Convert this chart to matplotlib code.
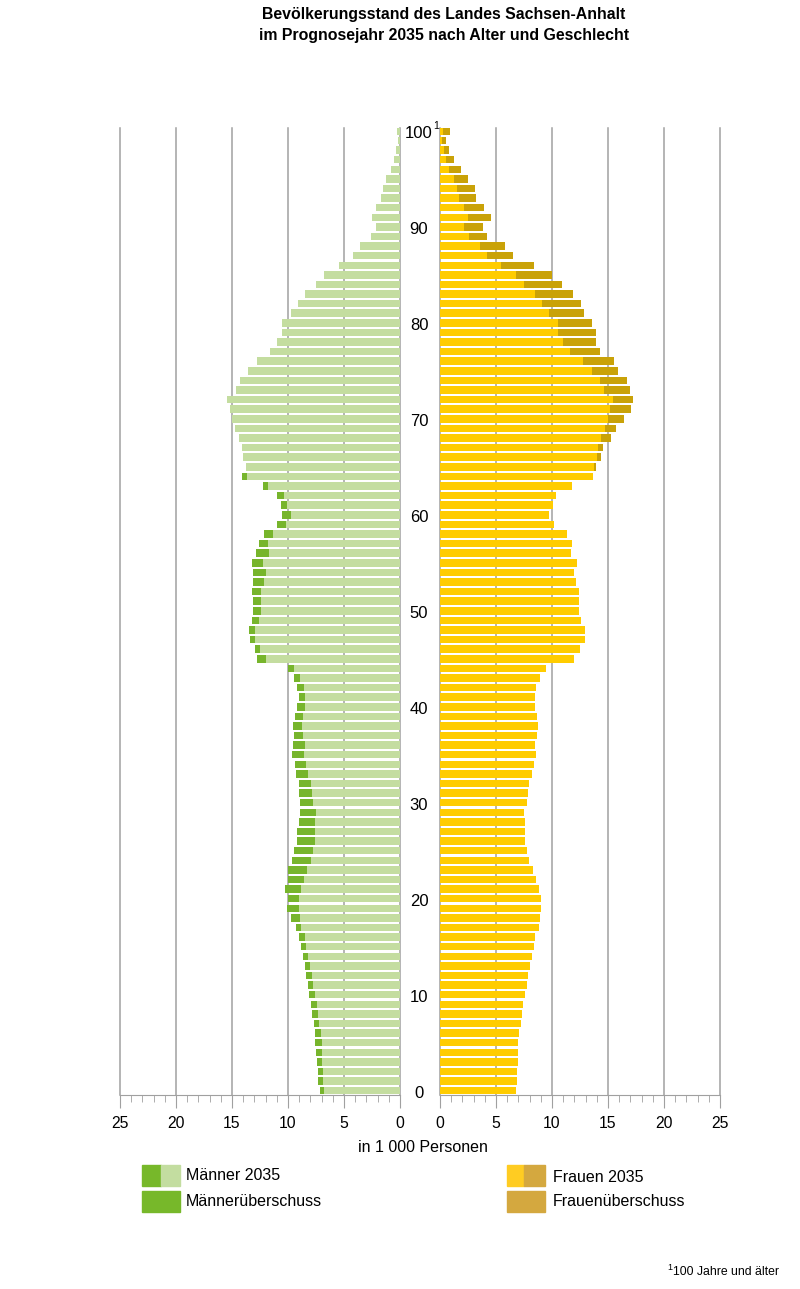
import numpy as np
import matplotlib.pyplot as plt
from matplotlib.patches import Rectangle
from matplotlib.transforms import blended_transform_factory

plt.rcParams["font.family"] = ["Liberation Sans", "DejaVu Sans"]

# Alter 0 bis 100 (100 = 100 Jahre und älter)
ages = np.arange(0, 101)

# Bevölkerung 2035 in 1 000 Personen, Alter 0 ... 100
maenner = [
    7.17, 7.29, 7.35, 7.44, 7.50, 7.56, 7.62, 7.71, 7.86, 7.95,
    8.13, 8.21, 8.36, 8.48, 8.63, 8.81, 9.02, 9.29, 9.76, 10.12,
    10.03, 10.24, 10.03, 9.97, 9.61, 9.43, 9.20, 9.17, 8.99, 8.96,
    8.93, 9.05, 9.05, 9.29, 9.38, 9.61, 9.55, 9.43, 9.52, 9.38,
    9.17, 9.02, 9.17, 9.43, 10.00, 12.74, 12.98, 13.42, 13.48, 13.18,
    13.15, 13.12, 13.24, 13.15, 13.10, 13.18, 12.83, 12.60, 12.17, 11.00,
    10.57, 10.65, 11.00, 12.23, 14.14, 13.78, 14.00, 14.10, 14.37, 14.73,
    15.03, 15.15, 15.42, 14.64, 14.30, 13.54, 12.74, 11.64, 10.98, 10.50,
    10.50, 9.73, 9.10, 8.48, 7.53, 6.82, 5.42, 4.17, 3.57, 2.56,
    2.17, 2.53, 2.14, 1.70, 1.55, 1.22, 0.83, 0.54, 0.33, 0.22, 0.27,
]
frauen = [
    6.82, 6.88, 6.90, 6.96, 6.99, 6.99, 7.08, 7.23, 7.32, 7.44,
    7.62, 7.77, 7.89, 8.07, 8.18, 8.36, 8.48, 8.87, 8.96, 9.05,
    9.02, 8.81, 8.57, 8.33, 7.92, 7.80, 7.59, 7.62, 7.56, 7.47,
    7.80, 7.89, 7.95, 8.21, 8.36, 8.54, 8.51, 8.66, 8.72, 8.66,
    8.45, 8.45, 8.54, 8.93, 9.49, 11.99, 12.53, 12.95, 12.92, 12.56,
    12.38, 12.41, 12.38, 12.10, 12.00, 12.26, 11.67, 11.79, 11.30, 10.20,
    9.70, 10.09, 10.33, 11.79, 13.69, 13.93, 14.35, 14.52, 15.27, 15.71,
    16.43, 17.02, 17.23, 17.00, 16.73, 15.90, 15.57, 14.30, 13.93, 13.96,
    13.60, 12.86, 12.60, 11.90, 10.90, 9.97, 8.42, 6.55, 5.80, 4.23,
    3.81, 4.52, 3.93, 3.20, 3.10, 2.50, 1.85, 1.22, 0.83, 0.57, 0.92,
]

x_ticks = [0, 5, 10, 15, 20, 25]
age_labels = [0, 10, 20, 30, 40, 50, 60, 70, 80, 90, 100]

m = np.array(maenner)
f = np.array(frauen)
common = np.minimum(m, f)
m_surplus = np.clip(m - f, 0, None)
f_surplus = np.clip(f - m, 0, None)

W, H = 800, 1289


def px(x, y):
    """Pixel position (from top left) -> figure fraction."""
    return x / W, 1 - y / H


fig = plt.figure(figsize=(W / 100, H / 100), dpi=100)
axL = fig.add_axes([120 / W, 194 / H, 280 / W, 967 / H])
axR = fig.add_axes([440 / W, 194 / H, 280 / W, 967 / H])

bar_h = 0.78
axL.barh(ages, common, height=bar_h, color="#c4dda0", zorder=2)
axL.barh(ages, m_surplus, left=common, height=bar_h, color="#77b52c", zorder=2)
axR.barh(ages, common, height=bar_h, color="#ffcc00", zorder=2)
axR.barh(ages, f_surplus, left=common, height=bar_h, color="#c9a208", zorder=2)

axL.set_xlim(25, 0)
axR.set_xlim(0, 25)

for ax in (axL, axR):
    ax.set_ylim(-0.45, 100.3)
    ax.set_yticks([])
    ax.set_xticks(x_ticks)
    ax.set_xticks(range(26), minor=True)
    for tx in x_ticks:
        ax.axvline(tx, color="#a0a0a0", lw=1.1, zorder=1, clip_on=False)
    for s in ["top", "left", "right"]:
        ax.spines[s].set_visible(False)
    ax.spines["bottom"].set_color("#a0a0a0")
    ax.tick_params(axis="x", which="major", length=9, color="#a0a0a0",
                   labelsize=11.3, pad=6)
    ax.tick_params(axis="x", which="minor", length=5, color="#a0a0a0")
    ax.set_facecolor("none")

# Altersbeschriftung in der Mitte
trans = blended_transform_factory(fig.transFigure, axL.transData)
for a in age_labels:
    fig.text(419 / W, a - 0.3, str(a), transform=trans, ha="center",
             va="center", fontsize=12)
fig.text(433 / W, 100.5, "1", transform=trans, ha="left", va="center",
         fontsize=7.5)

fig.text(*px(423, 1147), "in 1 000 Personen", ha="center", va="center",
         fontsize=11.5)

fig.text(*px(444, 25),
         "Bevölkerungsstand des Landes Sachsen-Anhalt\n"
         "im Prognosejahr 2035 nach Alter und Geschlecht",
         ha="center", va="center", fontsize=11.4, fontweight="bold",
         linespacing=1.55)

# Legende
def legend_patch(x0, y0, w, h, color):
    x, y = px(x0, y0 + h)
    fig.patches.append(Rectangle((x, y), w / W, h / H, color=color,
                                 transform=fig.transFigure, figure=fig))


legend_patch(142, 1165, 19, 21, "#77b82a")
legend_patch(161, 1165, 19, 21, "#c3dda0")
legend_patch(142, 1191, 38, 21, "#77b82a")
legend_patch(507, 1165, 17, 21, "#ffcc22")
legend_patch(524, 1165, 21, 21, "#d4a83f")
legend_patch(507, 1191, 38, 21, "#d4a83f")

fig.text(*px(186, 1176), "Männer 2035", va="center", fontsize=11.5)
fig.text(*px(186, 1201), "Männerüberschuss", va="center", fontsize=11.5)
fig.text(*px(553, 1177), "Frauen 2035", va="center", fontsize=11.5)
fig.text(*px(553, 1201), "Frauenüberschuss", va="center", fontsize=11.5)

# Fußnote
fig.text(*px(667, 1267), "1", fontsize=6.5, va="center")
fig.text(*px(673, 1272), "100 Jahre und älter", fontsize=8.8, va="center")

fig.savefig("out.png", dpi=100, facecolor="white")
